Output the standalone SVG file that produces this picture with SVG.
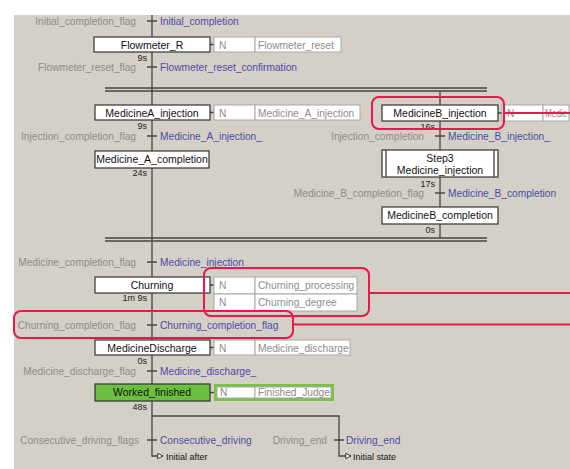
<svg xmlns="http://www.w3.org/2000/svg" width="570" height="469" viewBox="0 0 570 469">
<style>
text{font-family:"Liberation Sans",Arial,sans-serif;font-size:10.2px}
.g{fill:#8c8c8c;text-anchor:end}
.b{fill:#4b4ba3}
.t{fill:#111;text-anchor:middle;font-size:10.5px}
.d{fill:#222;font-size:9px;text-anchor:end}
.a{fill:#8c8c8c}
.j{fill:#111;font-size:9px}
.step{fill:#fff;stroke:#333;stroke-width:1.2}
.act{fill:#fff;stroke:#a8a8a8;stroke-width:1}
.ln{stroke:#444;stroke-width:1.3;fill:none}
.red{fill:none;stroke:#e8194a;stroke-width:2}
</style>
<defs>
<marker id="jmp" viewBox="0 0 8 8" refX="7" refY="4" markerWidth="7" markerHeight="7" orient="auto" markerUnits="userSpaceOnUse">
<path d="M1,1 L7,4 L1,7 Z" fill="#fff" stroke="#222" stroke-width="1"/>
</marker>
</defs>
<rect x="0" y="0" width="570" height="469" fill="#fff"/>
<rect x="14" y="15" width="556" height="454" fill="#d4d0c8"/>

<g id="connectors">
<path class="ln" d="M152,15 V456 H163" marker-end="url(#jmp)"/>
<path class="ln" d="M440,91 V238"/>
<path class="ln" d="M105,88 H487 M105,91 H487"/>
<path class="ln" d="M105,238 H487 M105,241 H487"/>
<path class="ln" d="M152,416 H339 V456 H351" marker-end="url(#jmp)"/>
<path class="ln" d="M147,21 H157 M147,67 H157 M147,136 H157 M147,262 H157 M147,325 H157 M147,371 H157 M147,440 H157 M435,136 H445 M435,193 H445 M334,440 H344"/>
<path class="ln" d="M210,44.5 H214 M210,112.5 H214 M210,285 H214 M210,347.5 H214 M210,392.5 H214 M498,113 H502" stroke="#888"/>
</g>

<g id="transitions">
<text class="g" x="136" y="25">Initial_completion_flag</text><text class="b" x="160" y="25">Initial_completion</text>
<text class="g" x="136" y="71">Flowmeter_reset_flag</text><text class="b" x="160" y="71">Flowmeter_reset_confirmation</text>
<text class="g" x="136" y="140">Injection_completion_flag</text><text class="b" x="160" y="140">Medicine_A_injection_</text>
<text class="g" x="424" y="140">Injection_completion</text><text class="b" x="448" y="140">Medicine_B_injection_</text>
<text class="g" x="424" y="197">Medicine_B_completion_flag</text><text class="b" x="448" y="197">Medicine_B_completion</text>
<text class="g" x="136" y="266">Medicine_completion_flag</text><text class="b" x="160" y="266">Medicine_injection_</text>
<text class="g" x="136" y="329">Churning_completion_flag</text><text class="b" x="160" y="329">Churning_completion_flag</text>
<text class="g" x="136" y="375">Medicine_discharge_flag</text><text class="b" x="160" y="375">Medicine_discharge_</text>
<text class="g" x="139" y="444">Consecutive_driving_flags</text><text class="b" x="160" y="444">Consecutive_driving</text>
<text class="g" x="327" y="444">Driving_end</text><text class="b" x="346" y="444">Driving_end</text>
<text class="j" x="166" y="460">Initial  after</text>
<text class="j" x="353" y="460">Initial  state</text>
</g>

<g id="step-flowmeter">
<rect class="step" x="94" y="37" width="116" height="15"/><text class="t" x="152" y="48.5">Flowmeter_R</text>
<rect class="act" x="214" y="37" width="41" height="15"/><rect class="act" x="255" y="37" width="86" height="15"/>
<text class="a" x="219" y="48.5">N</text><text class="a" x="258" y="48.5">Flowmeter_reset</text>
<text class="d" x="147" y="61">9s</text>
</g>

<g id="step-medA">
<rect class="step" x="95" y="105" width="115" height="15"/><text class="t" x="152" y="116.5">MedicineA_injection</text>
<rect class="act" x="214" y="105" width="41" height="15"/><rect class="act" x="255" y="105" width="105" height="15"/>
<text class="a" x="219" y="116.5">N</text><text class="a" x="258" y="116.5">Medicine_A_injection</text>
<text class="d" x="147" y="129">9s</text>
</g>

<g id="step-medAcomp">
<rect class="step" x="95" y="151" width="114" height="17"/><text class="t" x="152" y="163">Medicine_A_completion</text>
<text class="d" x="147" y="176">24s</text>
</g>

<g id="step-medB">
<rect class="act" x="502" y="105" width="41" height="16"/><rect class="act" x="543" y="105" width="26" height="16"/>
<text class="a" x="507" y="117">N</text><text class="a" x="545" y="117" textLength="22" lengthAdjust="spacingAndGlyphs">Medic</text>
<rect class="step" x="382" y="105" width="116" height="16"/><text class="t" x="440" y="117">MedicineB_injection</text>
<text class="d" x="435" y="130">16s</text>
</g>

<g id="step-step3">
<rect class="step" x="382" y="150" width="116" height="27"/>
<path class="ln" d="M386,150 V177 M494,150 V177" stroke="#333"/>
<text class="t" x="440" y="162">Step3</text><text class="t" x="440" y="174">Medicine_injection</text>
<text class="d" x="435" y="187">17s</text>
</g>

<g id="step-medBcomp">
<rect class="step" x="382" y="207" width="116" height="17"/><text class="t" x="440" y="219">MedicineB_completion</text>
<text class="d" x="435" y="233">0s</text>
</g>

<g id="step-churning">
<rect class="step" x="95" y="277" width="115" height="16"/><text class="t" x="152" y="289">Churning</text>
<rect class="act" x="214" y="277" width="41" height="17"/><rect class="act" x="255" y="277" width="102" height="17"/>
<rect class="act" x="214" y="294" width="41" height="17"/><rect class="act" x="255" y="294" width="102" height="17"/>
<text class="a" x="219" y="289">N</text><text class="a" x="258" y="289">Churning_processing</text>
<text class="a" x="219" y="306">N</text><text class="a" x="258" y="306">Churning_degree</text>
<text class="d" x="147" y="301">1m 9s</text>
</g>

<g id="step-discharge">
<rect class="step" x="95" y="340" width="115" height="15"/><text class="t" x="152" y="351.5">MedicineDischarge</text>
<rect class="act" x="214" y="340" width="41" height="15"/><rect class="act" x="255" y="340" width="95" height="15"/>
<text class="a" x="219" y="351.5">N</text><text class="a" x="258" y="351.5">Medicine_discharge</text>
<text class="d" x="147" y="364">0s</text>
</g>

<g id="step-worked">
<rect x="95" y="384" width="115" height="17" fill="#6cc040" stroke="#333" stroke-width="1.2"/><text class="t" x="152" y="396">Worked_finished</text>
<rect x="214" y="384" width="120" height="17" fill="#7cc04a"/>
<rect class="act" x="217" y="387" width="38" height="11"/><rect class="act" x="255" y="387" width="76" height="11"/>
<text class="a" x="220" y="396">N</text><text class="a" x="258" y="396">Finished_Judge</text>
<text class="d" x="147" y="410">48s</text>
</g>

<g id="highlights">
<rect class="red" x="372" y="97" width="132" height="32" rx="7"/>
<path class="red" d="M504,113 H570"/>
<rect class="red" x="204" y="268" width="165" height="48" rx="7"/>
<path class="red" d="M369,293 H570"/>
<rect class="red" x="14" y="311" width="279" height="27" rx="7"/>
<path class="red" d="M293,324.5 H570"/>
</g>
</svg>
